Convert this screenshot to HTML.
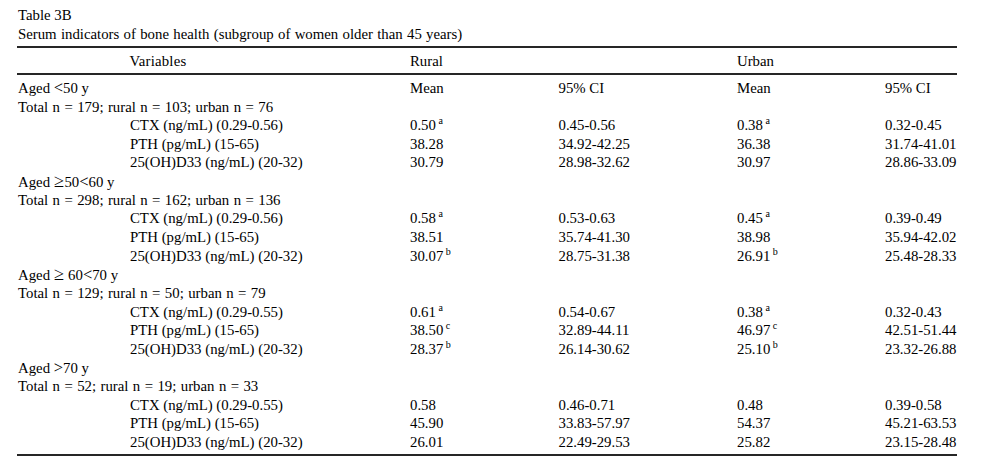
<!DOCTYPE html>
<html><head><meta charset="utf-8"><style>
html,body{margin:0;padding:0;background:#fff;}
body{width:982px;height:460px;position:relative;overflow:hidden;}
.t{position:absolute;font-family:"Liberation Serif",serif;font-size:14.8px;line-height:14.8px;color:#000;white-space:nowrap;}
.t sup{font-size:10px;line-height:0;vertical-align:0;position:relative;top:-6px;margin-left:2.5px;}
.l{position:absolute;background:#262626;}
.ms{font-size:16.5px}
.mg{font-size:18.5px;letter-spacing:0.5px}
</style></head><body>

<div class="t" style="left:18px;top:8.00px;">Table 3B</div>
<div class="t" style="left:18px;top:26.90px;word-spacing:0.6px">Serum indicators of bone health (subgroup of women older than 45 years)</div>
<div class="t" style="left:129.5px;top:54.10px;letter-spacing:0.2px">Variables</div>
<div class="t" style="left:410px;top:54.10px;">Rural</div>
<div class="t" style="left:737px;top:54.10px;">Urban</div>
<div class="t" style="left:18px;top:80.91px;">Aged <span class=ms>&lt;</span>50 y</div>
<div class="t" style="left:410px;top:80.91px;">Mean</div>
<div class="t" style="left:558.5px;top:80.91px;">95% CI</div>
<div class="t" style="left:737px;top:80.91px;">Mean</div>
<div class="t" style="left:885px;top:80.91px;">95% CI</div>
<div class="t" style="left:18px;top:99.55px;word-spacing:0.72px">Total n = 179; rural n = 103; urban n = 76</div>
<div class="t" style="left:130px;top:118.18px;">CTX (ng/mL) (0.29-0.56)</div>
<div class="t" style="left:410px;top:118.18px;">0.50<sup>a</sup></div>
<div class="t" style="left:558.5px;top:118.18px;">0.45-0.56</div>
<div class="t" style="left:737px;top:118.18px;">0.38<sup>a</sup></div>
<div class="t" style="left:885px;top:118.18px;">0.32-0.45</div>
<div class="t" style="left:130px;top:136.82px;">PTH (pg/mL) (15-65)</div>
<div class="t" style="left:410px;top:136.82px;">38.28</div>
<div class="t" style="left:558.5px;top:136.82px;">34.92-42.25</div>
<div class="t" style="left:737px;top:136.82px;">36.38</div>
<div class="t" style="left:885px;top:136.82px;">31.74-41.01</div>
<div class="t" style="left:130px;top:155.47px;">25(OH)D33 (ng/mL) (20-32)</div>
<div class="t" style="left:410px;top:155.47px;">30.79</div>
<div class="t" style="left:558.5px;top:155.47px;">28.98-32.62</div>
<div class="t" style="left:737px;top:155.47px;">30.97</div>
<div class="t" style="left:885px;top:155.47px;">28.86-33.09</div>
<div class="t" style="left:18px;top:174.10px;">Aged <span class=mg>&ge;</span>50<span class=ms>&lt;</span>60 y</div>
<div class="t" style="left:18px;top:192.74px;word-spacing:0.72px">Total n = 298; rural n = 162; urban n = 136</div>
<div class="t" style="left:130px;top:211.39px;">CTX (ng/mL) (0.29-0.56)</div>
<div class="t" style="left:410px;top:211.39px;">0.58<sup>a</sup></div>
<div class="t" style="left:558.5px;top:211.39px;">0.53-0.63</div>
<div class="t" style="left:737px;top:211.39px;">0.45<sup>a</sup></div>
<div class="t" style="left:885px;top:211.39px;">0.39-0.49</div>
<div class="t" style="left:130px;top:230.03px;">PTH (pg/mL) (15-65)</div>
<div class="t" style="left:410px;top:230.03px;">38.51</div>
<div class="t" style="left:558.5px;top:230.03px;">35.74-41.30</div>
<div class="t" style="left:737px;top:230.03px;">38.98</div>
<div class="t" style="left:885px;top:230.03px;">35.94-42.02</div>
<div class="t" style="left:130px;top:248.66px;">25(OH)D33 (ng/mL) (20-32)</div>
<div class="t" style="left:410px;top:248.66px;">30.07<sup>b</sup></div>
<div class="t" style="left:558.5px;top:248.66px;">28.75-31.38</div>
<div class="t" style="left:737px;top:248.66px;">26.91<sup>b</sup></div>
<div class="t" style="left:885px;top:248.66px;">25.48-28.33</div>
<div class="t" style="left:18px;top:267.31px;">Aged <span class=mg>&ge;</span> 60<span class=ms>&lt;</span>70 y</div>
<div class="t" style="left:18px;top:285.95px;word-spacing:0.72px">Total n = 129; rural n = 50; urban n = 79</div>
<div class="t" style="left:130px;top:304.59px;">CTX (ng/mL) (0.29-0.55)</div>
<div class="t" style="left:410px;top:304.59px;">0.61<sup>a</sup></div>
<div class="t" style="left:558.5px;top:304.59px;">0.54-0.67</div>
<div class="t" style="left:737px;top:304.59px;">0.38<sup>a</sup></div>
<div class="t" style="left:885px;top:304.59px;">0.32-0.43</div>
<div class="t" style="left:130px;top:323.23px;">PTH (pg/mL) (15-65)</div>
<div class="t" style="left:410px;top:323.23px;">38.50<sup>c</sup></div>
<div class="t" style="left:558.5px;top:323.23px;">32.89-44.11</div>
<div class="t" style="left:737px;top:323.23px;">46.97<sup>c</sup></div>
<div class="t" style="left:885px;top:323.23px;">42.51-51.44</div>
<div class="t" style="left:130px;top:341.87px;">25(OH)D33 (ng/mL) (20-32)</div>
<div class="t" style="left:410px;top:341.87px;">28.37<sup>b</sup></div>
<div class="t" style="left:558.5px;top:341.87px;">26.14-30.62</div>
<div class="t" style="left:737px;top:341.87px;">25.10<sup>b</sup></div>
<div class="t" style="left:885px;top:341.87px;">23.32-26.88</div>
<div class="t" style="left:18px;top:360.51px;">Aged <span class=ms>&gt;</span>70 y</div>
<div class="t" style="left:18px;top:379.15px;word-spacing:0.72px">Total n = 52; rural n = 19; urban n = 33</div>
<div class="t" style="left:130px;top:397.79px;">CTX (ng/mL) (0.29-0.55)</div>
<div class="t" style="left:410px;top:397.79px;">0.58</div>
<div class="t" style="left:558.5px;top:397.79px;">0.46-0.71</div>
<div class="t" style="left:737px;top:397.79px;">0.48</div>
<div class="t" style="left:885px;top:397.79px;">0.39-0.58</div>
<div class="t" style="left:130px;top:416.43px;">PTH (pg/mL) (15-65)</div>
<div class="t" style="left:410px;top:416.43px;">45.90</div>
<div class="t" style="left:558.5px;top:416.43px;">33.83-57.97</div>
<div class="t" style="left:737px;top:416.43px;">54.37</div>
<div class="t" style="left:885px;top:416.43px;">45.21-63.53</div>
<div class="t" style="left:130px;top:435.07px;">25(OH)D33 (ng/mL) (20-32)</div>
<div class="t" style="left:410px;top:435.07px;">26.01</div>
<div class="t" style="left:558.5px;top:435.07px;">22.49-29.53</div>
<div class="t" style="left:737px;top:435.07px;">25.82</div>
<div class="t" style="left:885px;top:435.07px;">23.15-28.48</div>
<div class="l" style="left:17px;width:940px;top:46.20px;height:1.8px"></div>
<div class="l" style="left:17px;width:940px;top:73.30px;height:1.8px"></div>
<div class="l" style="left:17px;width:940px;top:454.00px;height:1.8px"></div>
</body></html>
